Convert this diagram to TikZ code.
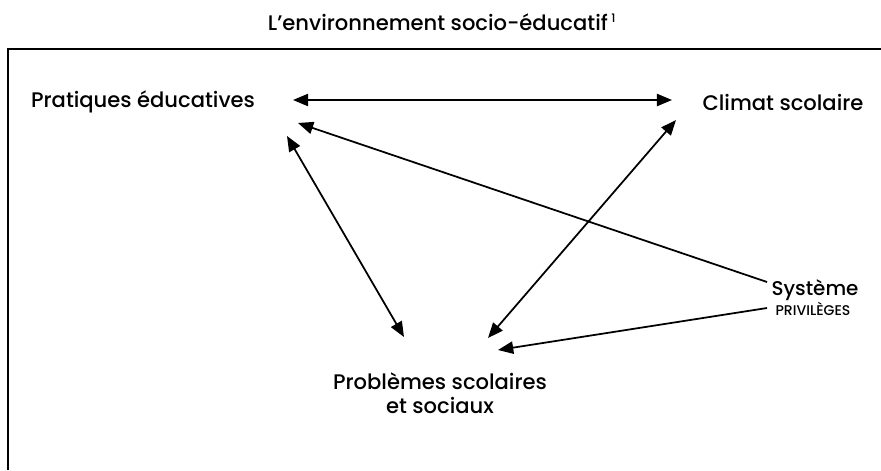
\documentclass[tikz,border=0pt]{standalone}
\usepackage{fontspec}
\setmainfont{Poppins}[UprightFont={* Medium}]
\usetikzlibrary{arrows.meta}
\begin{document}
\begin{tikzpicture}[x=0.03cm,y=-0.03cm,
    lbl/.style={inner sep=0pt,font=\fontsize{18}{21}\selectfont},
    arr/.style={line width=1.5pt,-{Triangle[length=13pt,width=10.5pt]}},
    darr/.style={line width=1.5pt,{Triangle[length=13pt,width=10.5pt]}-{Triangle[length=13pt,width=10.5pt]}}]

      \useasboundingbox (0,0) rectangle (881,470);
      \draw[line width=1.8pt] (8,470) -- (8,49) -- (881,49);

      \node[lbl] (titre) at (442,22) {L'environnement socio-éducatif\,\textsuperscript{\fontsize{10}{10}\selectfont 1}};

      \node[lbl] (prat) at (143,102) {Pratiques éducatives};
      \node[lbl] (clim) at (783,102) {Climat scolaire};
      \node[lbl,font=\fontsize{17}{20}\selectfont] (syst) at (815,290) {Système};
      \node[lbl,font=\fontsize{12}{14}\selectfont] (priv) at (813,309) {PRIVILÈGES};
      \node[lbl,align=center] (prob) at (440,393) {Problèmes scolaires\\et sociaux};

      \coordinate (prat-e) at (293,100);
      \coordinate (prat-s) at (298,123);
      \coordinate (prat-b) at (287,136);
      \coordinate (clim-w) at (672,100);
      \coordinate (clim-b) at (676,120);
      \coordinate (syst-h) at (767,282);
      \coordinate (syst-b) at (767,308);
      \coordinate (prob-l) at (404,337);
      \coordinate (prob-m) at (488,338);
      \coordinate (prob-r) at (498,350);

      \draw[darr] (prat-e) -- (clim-w);
      \draw[arr] (syst-h) -- (prat-s);
      \draw[darr] (prat-b) -- (prob-l);
      \draw[darr] (clim-b) -- (prob-m);
      \draw[arr] (syst-b) -- (prob-r);

    \end{tikzpicture}
\end{document}
